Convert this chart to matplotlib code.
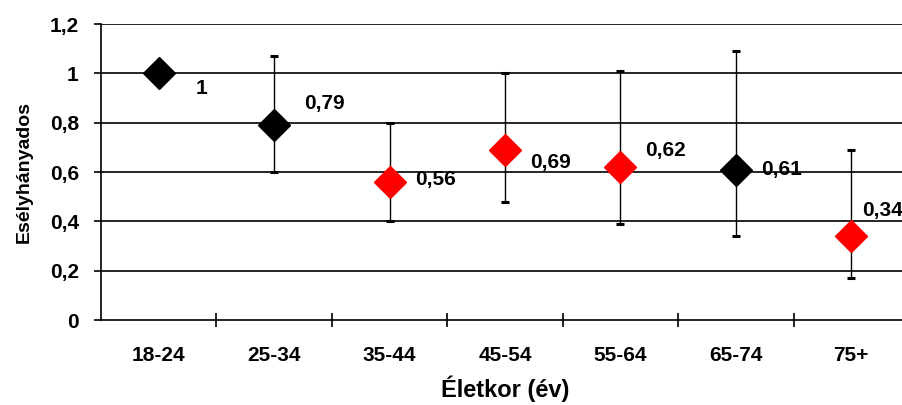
import numpy as np
import matplotlib.pyplot as plt
from matplotlib.ticker import FixedLocator, FuncFormatter

plt.rcParams['font.family'] = ['Liberation Sans', 'DejaVu Sans']
plt.rcParams['font.weight'] = 'bold'

# adatok
korcsoportok = ['18-24', '25-34', '35-44', '45-54', '55-64', '65-74', '75+']
esely = [1.0, 0.79, 0.56, 0.69, 0.62, 0.61, 0.34]
also = [np.nan, 0.60, 0.40, 0.48, 0.39, 0.34, 0.17]
felso = [np.nan, 1.07, 0.80, 1.00, 1.01, 1.09, 0.69]
szignifikans = [False, False, True, True, True, False, True]
y_ticks = [0, 0.2, 0.4, 0.6, 0.8, 1.0, 1.2]

# címkék eltolása pixelben (jobbra, fel)
label_offsets = [(37, -15), (30, 22), (26, 2), (25, -13), (25, 17), (25, 0), (11, 26)]

fig = plt.figure(figsize=(9.03, 4.05), dpi=100)
ax = fig.add_axes([101 / 903, 85 / 405, 808 / 903, 296 / 405])

x = np.arange(len(korcsoportok))
esely = np.array(esely)
also = np.array(also)
felso = np.array(felso)

# rácsvonalak
for yv in y_ticks[1:]:
    ax.axhline(yv, color='black', lw=1.2, zorder=1)

# hibasávok
ax.errorbar(x, esely, yerr=[esely - also, felso - esely], fmt='none',
            ecolor='black', elinewidth=1.0, capsize=3, capthick=2.2, zorder=2)

colors = ['red' if s else 'black' for s in szignifikans]
for xi, yi, c in zip(x, esely, colors):
    ax.plot(xi, yi, marker='D', ms=16, color=c, mec=c, ls='none', zorder=3)

for xi, yi, (dx, dy) in zip(x, esely, label_offsets):
    txt = ('%g' % yi).replace('.', ',')
    ax.annotate(txt, (xi, yi), xytext=(dx, dy), textcoords='offset pixels',
                ha='left', va='center', fontsize=15, fontweight='bold', zorder=4)

ax.set_xlim(-0.5, len(korcsoportok) - 0.5)
ax.set_ylim(0, 1.2)

ax.set_xticks(x)
ax.set_xticklabels(korcsoportok)
ax.xaxis.set_minor_locator(FixedLocator(np.arange(0.5, len(korcsoportok) - 1, 1)))
ax.tick_params(axis='x', which='major', length=0, pad=19, labelsize=15)
ax.tick_params(axis='x', which='minor', direction='inout', length=10, width=1.2)

ax.set_yticks(y_ticks)
ax.yaxis.set_major_formatter(FuncFormatter(lambda v, p: ('%g' % round(v, 1)).replace('.', ',')))
ax.tick_params(axis='y', direction='out', length=5, width=1.2, pad=11, labelsize=15)

for s in ['top', 'right']:
    ax.spines[s].set_visible(False)
for s in ['left', 'bottom']:
    ax.spines[s].set_linewidth(1.2)

ax.set_ylabel('Esélyhányados', fontsize=14, fontweight='bold', labelpad=12)
ax.set_xlabel('Életkor (év)', fontsize=17, fontweight='bold', labelpad=7)

fig.savefig('out.png', dpi=100)
